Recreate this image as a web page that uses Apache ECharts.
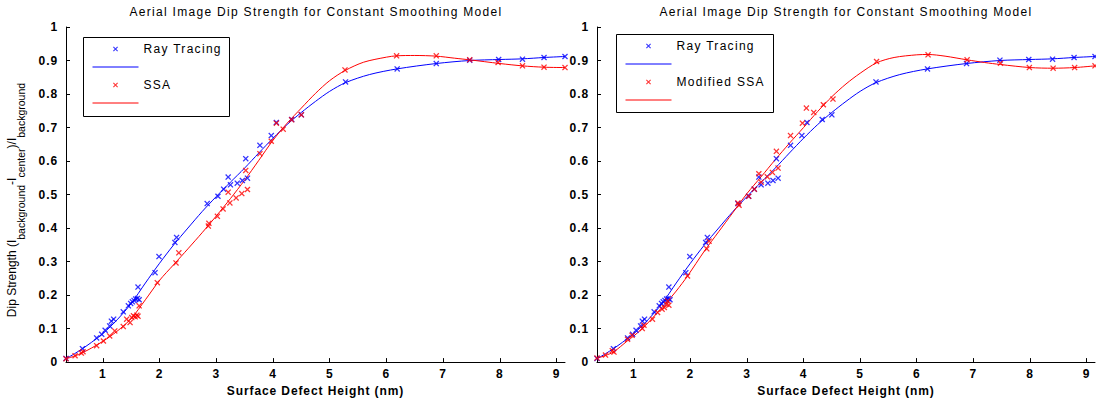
<!DOCTYPE html>
<html>
<head>
<meta charset="utf-8">
<script src="https://cdn.jsdelivr.net/npm/echarts@6/dist/echarts.min.js"></script>
<style>
  html, body { margin: 0; padding: 0; background: #fff; }
  #chart { width: 1096px; height: 402px; }
  /* wider tracking for the regular labels; the rotated y label keeps normal spacing */
  #chart text[style*="Arial"] { letter-spacing: 1.3px; }
  #chart text[style*="Arial"][style*="bold"] { letter-spacing: 0.9px; }
</style>
</head>
<body>
<div id="chart"></div>
<script>
// ---- data -------------------------------------------------------------
const TITLE = 'Aerial Image Dip Strength for Constant Smoothing Model';
const X_NAME = 'Surface Defect Height (nm)';
const xTicks = [1, 2, 3, 4, 5, 6, 7, 8, 9];
const X_MIN = 0.35, X_MAX = 9.15;

// Ray tracing samples (same in both panels)
const rayX = [0.35,0.64,0.89,0.98,1.04,1.12,1.15,1.19,1.36,1.45,1.49,1.52,1.55,1.58,1.61,1.64,1.62,1.92,1.99,2.27,2.30,2.84,3.03,3.13,3.21,3.25,3.37,3.46,3.55,3.52,3.77,3.97,4.06,4.33,4.50,5.28,6.19,6.88,7.47,7.98,8.40,8.78,9.15];
const rayY = [0.011,0.040,0.072,0.083,0.095,0.108,0.122,0.128,0.150,0.168,0.175,0.180,0.184,0.188,0.190,0.186,0.224,0.267,0.315,0.357,0.372,0.473,0.495,0.516,0.552,0.529,0.534,0.542,0.549,0.607,0.647,0.676,0.715,0.724,0.738,0.836,0.875,0.891,0.901,0.903,0.904,0.909,0.912];

// SSA samples (left panel)
const ssaX = [0.35,0.51,0.62,0.65,0.89,1.01,1.12,1.21,1.36,1.42,1.48,1.51,1.54,1.57,1.60,1.62,1.64,1.96,2.29,2.34,2.86,2.87,3.02,3.12,3.24,3.21,3.35,3.45,3.55,3.52,3.77,3.97,4.06,4.18,4.33,4.50,5.27,6.18,6.88,7.47,7.97,8.40,8.78,9.15];
const ssaY = [0.010,0.019,0.027,0.031,0.049,0.063,0.078,0.093,0.106,0.128,0.118,0.133,0.138,0.135,0.140,0.137,0.168,0.237,0.296,0.326,0.406,0.414,0.435,0.457,0.475,0.507,0.490,0.503,0.515,0.572,0.622,0.659,0.713,0.695,0.723,0.738,0.872,0.914,0.914,0.902,0.894,0.884,0.880,0.879];

// Modified SSA samples (right panel)
const modX = [0.35,0.50,0.62,0.65,0.89,0.97,1.15,1.18,1.33,1.42,1.50,1.54,1.58,1.60,1.62,1.95,2.29,2.33,2.84,2.86,3.03,3.13,3.21,3.25,3.36,3.45,3.55,3.52,3.77,3.98,4.05,4.18,4.35,4.52,5.29,6.20,6.89,7.48,7.99,8.41,8.79,9.15];
const modY = [0.012,0.021,0.034,0.030,0.068,0.080,0.100,0.110,0.128,0.148,0.158,0.163,0.173,0.182,0.170,0.257,0.338,0.361,0.475,0.468,0.495,0.516,0.562,0.537,0.553,0.566,0.579,0.629,0.676,0.713,0.758,0.745,0.768,0.785,0.897,0.917,0.902,0.892,0.879,0.877,0.879,0.884];

// fitted curves
const rayFitX = [0.35,0.5,0.64,0.8,1.0,1.25,1.5,1.75,2.0,2.25,2.5,2.75,3.0,3.25,3.5,3.75,4.0,4.25,4.5,4.75,5.0,5.28,5.7,6.19,6.88,7.47,8.0,8.4,8.78,9.15];
const rayFitY = [0.010,0.025,0.040,0.059,0.085,0.126,0.175,0.236,0.295,0.350,0.400,0.449,0.494,0.537,0.579,0.624,0.668,0.709,0.745,0.778,0.808,0.834,0.858,0.875,0.891,0.900,0.903,0.905,0.909,0.912];

const ssaFitX = [0.35,0.5,0.64,0.8,1.0,1.25,1.5,1.75,2.0,2.25,2.5,2.75,3.0,3.25,3.5,3.75,4.0,4.25,4.5,4.75,5.0,5.27,5.6,6.0,6.18,6.5,6.88,7.2,7.47,8.0,8.4,8.78,9.15];
const ssaFitY = [0.010,0.018,0.028,0.042,0.062,0.092,0.130,0.186,0.244,0.291,0.338,0.386,0.436,0.488,0.543,0.602,0.662,0.713,0.758,0.802,0.840,0.870,0.895,0.910,0.914,0.915,0.913,0.907,0.902,0.891,0.884,0.880,0.879];

const modFitX = [0.35,0.5,0.64,0.885,1.0,1.15,1.25,1.5,1.6,1.75,1.95,2.25,2.5,2.75,3.0,3.25,3.5,3.75,4.0,4.25,4.5,4.75,5.0,5.29,5.6,6.0,6.2,6.5,6.89,7.2,7.48,8.0,8.41,8.79,9.15];
const modFitY = [0.011,0.020,0.030,0.063,0.078,0.100,0.117,0.163,0.182,0.212,0.257,0.332,0.389,0.446,0.503,0.553,0.604,0.653,0.700,0.748,0.792,0.830,0.862,0.893,0.909,0.917,0.918,0.913,0.902,0.894,0.888,0.879,0.877,0.879,0.884];

// ---- styling ----------------------------------------------------------
const FONT = '"Liberation Sans", Arial';
const FONT_PLAIN = '"Liberation Sans", sans-serif';
const BLUE = '#0000ff', RED = '#ff0000';
const X_MARK = 'path://M0,1.5L1.5,0L5,3.5L8.5,0L10,1.5L6.5,5L10,8.5L8.5,10L5,6.5L1.5,10L0,8.5L3.5,5Z';
const BLUE_FIT = '\u00a0', RED_FIT = '\u00a0\u00a0';

const pts = (xs, ys) => xs.map((x, i) => [x, ys[i]]);

function xAxisFor(i) {
  return {
    gridIndex: i, type: 'value', min: X_MIN, max: X_MAX,
    name: X_NAME, nameLocation: 'middle', nameGap: 22,
    nameTextStyle: { fontFamily: FONT, fontSize: 12, fontWeight: 'bold', color: '#000' },
    axisLine: { show: true, lineStyle: { color: '#000', width: 1 } },
    axisTick: { show: true, inside: true, length: 4, customValues: xTicks, lineStyle: { color: '#000' } },
    axisLabel: { customValues: xTicks, margin: 6, fontFamily: FONT, fontSize: 12, fontWeight: 'bold', color: '#000' },
    splitLine: { show: false }
  };
}
function yAxisFor(i) {
  return {
    gridIndex: i, type: 'value', min: 0, max: 1, interval: 0.1,
    axisLine: { show: true, lineStyle: { color: '#000', width: 1 } },
    axisTick: { show: true, inside: true, length: 4, lineStyle: { color: '#000' } },
    axisLabel: { margin: 8, fontFamily: FONT, fontSize: 12, fontWeight: 'bold', color: '#000' },
    splitLine: { show: false }
  };
}
function scatter(name, i, xs, ys, color) {
  return {
    type: 'scatter', name: name, xAxisIndex: i, yAxisIndex: i,
    data: pts(xs, ys), symbol: X_MARK, symbolSize: 6,
    itemStyle: { color: color }, z: 3
  };
}
function fit(name, i, xs, ys, color) {
  return {
    type: 'line', name: name, xAxisIndex: i, yAxisIndex: i,
    data: pts(xs, ys), smooth: 0.3, symbol: 'none', showSymbol: false,
    lineStyle: { color: color, width: 1 }, itemStyle: { color: color }, z: 2
  };
}
// the fitted-curve entries show only their line sample
const lineEntry = (name, color) => ({
  name: name,
  itemStyle: { color: 'rgba(0,0,0,0)', opacity: 0, borderWidth: 0 },
  lineStyle: { color: color, width: 1 }
});
function legendFor(left, top, labels) {
  return {
    left: left, top: top, orient: 'vertical', padding: 0,
    itemWidth: 46, itemHeight: 5, itemGap: 6, selectedMode: false,
    data: labels,
    textStyle: { fontFamily: FONT, fontSize: 12, color: '#000' }
  };
}

const chart = echarts.init(document.getElementById('chart'), null, { renderer: 'svg' });
chart.setOption({
  animation: false,
  backgroundColor: '#fff',
  title: [
    { text: TITLE, left: 316, top: 6, padding: 0, textAlign: 'center',
      textStyle: { fontFamily: FONT, fontSize: 12, fontWeight: 'normal', color: '#000' } },
    { text: TITLE, left: 846, top: 6, padding: 0, textAlign: 'center',
      textStyle: { fontFamily: FONT, fontSize: 12, fontWeight: 'normal', color: '#000' } }
  ],
  grid: [
    { left: 66, top: 27, width: 499, height: 336 },
    { left: 597, top: 27, width: 498, height: 336 }
  ],
  xAxis: [xAxisFor(0), xAxisFor(1)],
  yAxis: [yAxisFor(0), yAxisFor(1)],
  legend: [
    legendFor(92, 43, ['Ray Tracing', lineEntry(BLUE_FIT, BLUE), 'SSA', lineEntry(RED_FIT, RED)]),
    legendFor(625, 40, ['Ray Tracing', lineEntry(BLUE_FIT, BLUE), 'Modified SSA', lineEntry(RED_FIT, RED)])
  ],
  graphic: [
    { type: 'rect', z: 1, shape: { x: 83.5, y: 37.5, width: 146, height: 79 },
      style: { fill: '#fff', stroke: '#000', lineWidth: 1 } },
    { type: 'rect', z: 1, shape: { x: 616.5, y: 34.5, width: 157, height: 78 },
      style: { fill: '#fff', stroke: '#000', lineWidth: 1 } },
    { type: 'text', x: 16, y: 200, rotation: Math.PI / 2,
      style: {
        text: '{m|Dip Strength (I}{s|background}{m|-I}{s|center}{m|)/I}{s|background}',
        align: 'center', verticalAlign: 'middle', fill: '#000',
        rich: {
          m: { fontFamily: FONT_PLAIN, fontSize: 12, lineHeight: 20, verticalAlign: 'top', fill: '#000' },
          s: { fontFamily: FONT_PLAIN, fontSize: 10.5, lineHeight: 11, verticalAlign: 'bottom', fill: '#000' }
        }
      } }
  ],
  series: [
    fit(BLUE_FIT, 0, rayFitX, rayFitY, BLUE),
    fit(RED_FIT, 0, ssaFitX, ssaFitY, RED),
    scatter('Ray Tracing', 0, rayX, rayY, BLUE),
    scatter('SSA', 0, ssaX, ssaY, RED),
    fit(BLUE_FIT, 1, rayFitX, rayFitY, BLUE),
    fit(RED_FIT, 1, modFitX, modFitY, RED),
    scatter('Ray Tracing', 1, rayX, rayY, BLUE),
    scatter('Modified SSA', 1, modX, modY, RED)
  ]
});
</script>
</body>
</html>
